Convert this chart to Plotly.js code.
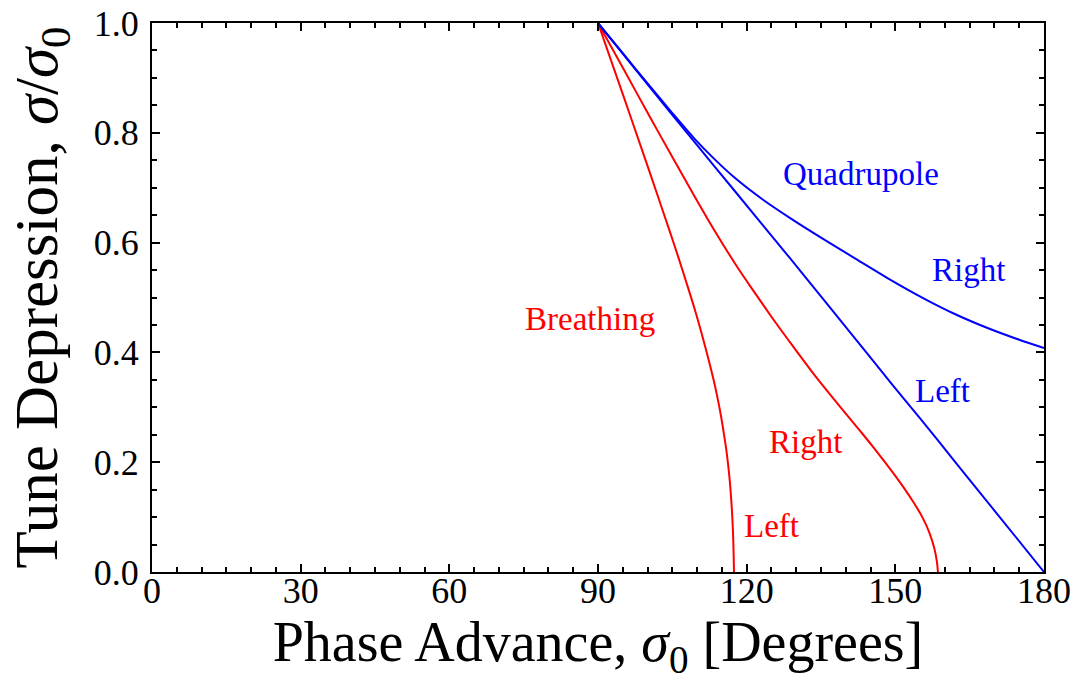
<!DOCTYPE html>
<html>
<head>
<meta charset="utf-8">
<script src="https://cdn.plot.ly/plotly-3.0.1.min.js"></script>
<style>
  html, body { margin: 0; padding: 0; background: #ffffff; }
  #chart { width: 1078px; height: 686px; }
</style>
</head>
<body>
<div id="chart"></div>
<script>
// Quadrupole mode band edges (blue)
const quadRightX = [90, 95, 100, 105, 109.5, 113.5, 117.6, 123.3, 128.7, 135, 142.1, 148.5, 155.6, 162, 169, 175, 180];
const quadRightY = [1.0, 0.945, 0.890, 0.836, 0.789, 0.752, 0.718, 0.678, 0.645, 0.609, 0.570, 0.535, 0.499, 0.470, 0.443, 0.423, 0.408];
const quadLeftX = [90, 100, 109.5, 117.6, 128.7, 135, 142.1, 149.5, 155, 162.3, 170, 180];
const quadLeftY = [1.0, 0.888, 0.783, 0.694, 0.572, 0.502, 0.423, 0.340, 0.280, 0.198, 0.112, 0.0];

// Breathing mode band edges (red)
const breathLeftX = [90, 93.4, 96.7, 100.1, 104.5, 106.4, 108.2, 109.8, 111.2, 112.4, 113.3, 114.1, 114.8, 115.4, 115.9, 116.3, 116.6, 116.9, 117.1, 117.25, 117.35, 117.42, 117.44];
const breathLeftY = [1.0, 0.912, 0.826, 0.737, 0.620, 0.568, 0.517, 0.470, 0.425, 0.384, 0.351, 0.318, 0.285, 0.252, 0.222, 0.192, 0.165, 0.130, 0.100, 0.070, 0.040, 0.010, 0.0];
const breathRightX = [90, 95.1, 100.4, 105, 109.5, 113.5, 118, 121.3, 125, 128.7, 133.5, 138.5, 142.8, 145.5, 150, 153.6, 155.5, 156.9, 157.9, 158.4, 158.6];
const breathRightY = [1.0, 0.917, 0.830, 0.756, 0.684, 0.622, 0.557, 0.513, 0.465, 0.419, 0.361, 0.305, 0.258, 0.228, 0.175, 0.128, 0.099, 0.071, 0.042, 0.018, 0.0];

// Axis ticks
const xTickVals = [0, 30, 60, 90, 120, 150, 180];
const xTickText = ['0', '30', '60', '90', '120', '150', '180'];
const yTickVals = [0, 0.2, 0.4, 0.6, 0.8, 1.0];
const yTickText = ['0.0', '0.2', '0.4', '0.6', '0.8', '1.0'];

const RED = '#ff0000';
const BLUE = '#0000ff';
const FONT = '"Liberation Serif", "Times New Roman", serif';

function curve(x, y, color) {
  return {x: x, y: y, mode: 'lines', hoverinfo: 'skip',
          line: {color: color, width: 2, shape: 'spline', smoothing: 0.8}};
}

const traces = [
  curve(breathLeftX, breathLeftY, RED),
  curve(breathRightX, breathRightY, RED),
  curve(quadLeftX, quadLeftY, BLUE),
  curve(quadRightX, quadRightY, BLUE)
];

function ann(text, x, y, color) {
  return {text: text, x: x, y: y, xref: 'x', yref: 'y', showarrow: false,
          xanchor: 'center', yanchor: 'middle',
          font: {family: FONT, size: 33, color: color}};
}

const layout = {
  width: 1078, height: 686,
  margin: {l: 152, r: 34, t: 23, b: 114, autoexpand: false},
  paper_bgcolor: '#ffffff', plot_bgcolor: '#ffffff',
  showlegend: false,
  font: {family: FONT, color: '#000000'},
  xaxis: {
    range: [0, 180], tickvals: xTickVals, ticktext: xTickText,
    showgrid: false, zeroline: false,
    showline: true, linecolor: '#000', linewidth: 2, mirror: 'ticks',
    ticks: 'inside', ticklen: 8, tickwidth: 2, tickcolor: '#000',
    minor: {dtick: 5, ticks: 'inside', ticklen: 5, tickwidth: 2, tickcolor: '#000', showgrid: false},
    tickfont: {family: FONT, size: 36, color: '#000'},
    ticklabelstandoff: -14,
    title: {text: 'Phase Advance, <i>σ</i><sub>0</sub> [Degrees]', font: {family: FONT, size: 56, color: '#000'}, standoff: 0},
    automargin: false
  },
  yaxis: {
    range: [0, 1], tickvals: yTickVals, ticktext: yTickText,
    showgrid: false, zeroline: false,
    showline: true, linecolor: '#000', linewidth: 2, mirror: 'ticks',
    ticks: 'inside', ticklen: 8, tickwidth: 2, tickcolor: '#000',
    minor: {dtick: 0.05, ticks: 'inside', ticklen: 5, tickwidth: 2, tickcolor: '#000', showgrid: false},
    tickfont: {family: FONT, size: 36, color: '#000'},
    ticklabelstandoff: 4,
    title: {text: 'Tune Depression, <i>σ</i>/<i>σ</i><sub>0</sub>', font: {family: FONT, size: 61, color: '#000'}, standoff: 16},
    automargin: false
  },
  annotations: [
    ann('Quadrupole', 143.0, 0.725, BLUE),
    ann('Right', 164.8, 0.550, BLUE),
    ann('Left', 159.6, 0.330, BLUE),
    ann('Breathing', 88.3, 0.461, RED),
    ann('Right', 131.8, 0.237, RED),
    ann('Left', 125.0, 0.084, RED)
  ]
};

Plotly.newPlot('chart', traces, layout, {staticPlot: true, displayModeBar: false});
</script>
</body>
</html>
